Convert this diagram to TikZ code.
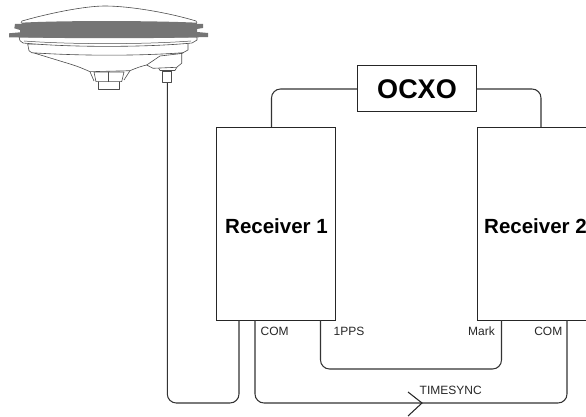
\documentclass[tikz,border=0pt]{standalone}
\usepackage{fontspec}
\setmainfont{Liberation Sans}
\tikzset{
  box/.style={draw=black!85,line width=1pt,fill=white,inner sep=0pt},
  wire/.style={draw=black!80,line width=1.05pt,rounded corners=9pt},
  tag/.style={inner sep=0pt,font=\fontsize{12}{14}\selectfont,text=black!85},
  big/.style={inner sep=0pt,font=\bfseries\fontsize{20.5}{23}\selectfont},
  ant/.style={draw=black!70,line width=0.6pt,fill=white,line join=round}
}
\begin{document}
\begin{tikzpicture}[x=1pt,y=-1pt]
\useasboundingbox (0,0) rectangle (586,417);
\clip (0,0) rectangle (586,417);
\coordinate (antout) at (167.3,82);
\coordinate (tsend) at (422,403);
\node[box,minimum width=119pt,minimum height=193pt,anchor=north west] (r1) at (216,127) {};
\node[box,minimum width=130pt,minimum height=193pt,anchor=north west] (r2) at (477,127) {};
\node[box,minimum width=119pt,minimum height=46pt,anchor=north west,font=\bfseries\fontsize{27}{30}\selectfont] (ocxo) at (357,65.5) {OCXO};
\coordinate (r1top) at (271.5,127);
\coordinate (r2top) at (541,127);
\coordinate (r1ant) at (239,320);
\coordinate (r1com) at (255,320);
\coordinate (r1pps) at (320.5,320);
\coordinate (r2mark) at (501.5,320);
\coordinate (r2com) at (567,320);
\draw[wire] (ocxo.west) -| (r1top);
\draw[wire] (ocxo.east) -| (r2top);
\draw[wire] (antout) -- (167.3,403) -- (239,403) -- (r1ant);
\draw[wire] (r1com) -- (255,403) -- (567,403) -- (r2com);
\draw[wire] (r1pps) -- (320.5,369) -- (501.5,369) -- (r2mark);
\draw[draw=black!85,line width=1.05pt] (408,392) -- (tsend) -- (408,416);
% labels
\node[big,anchor=center] (l1) at (276.5,226) {Receiver 1};
\node[big,anchor=west] (l2) at (484,226) {Receiver 2};
\node[tag,anchor=west] (t1) at (260.5,331) {COM};
\node[tag,anchor=west] (t2) at (333.5,331) {1PPS};
\node[tag,anchor=east] (t3) at (495,331) {Mark};
\node[tag,anchor=east] (t4) at (562.5,331) {COM};
\node[tag,anchor=west] (t5) at (419.5,390) {TIMESYNC};
% antenna: feet first, body over them
\draw[ant] (162.7,68) -- (162.7,82) -- (171.7,82) -- (171.7,68) -- cycle;
\draw[ant] (162.7,71.7) -- (171.7,71.7);
\draw[ant] (158,67) -- (160,70.5) -- (175,70.5) -- (177,67);
\draw[ant] (98,80) -- (98,89.3) -- (119,89.3) -- (119,80) -- cycle;
\draw[ant] (94,72) -- (96,81.7) -- (121.7,81.7) -- (124,72) -- cycle;
\draw[ant] (108,71.7) -- (108,81.7);
% lower body and cone
\draw[ant] (33,52.7) -- (70,64) .. controls (80,67) and (86,70) .. (90,71.7) -- (130,70.7) .. controls (136,68) and (142,66) .. (146.7,65) -- (183,53) -- cycle;
\draw[ant] (146.7,65) -- (153,68.3) -- (176.7,67.3) -- (181.7,63.3) -- (181.7,53.5) -- (160,56) -- cycle;
\draw[ant] (90,71.7) -- (94,81);
\draw[ant] (130,70.7) -- (124,80);
% flange
\draw[ant] (27.7,44) -- (29,50.7) -- (31.7,52.7) .. controls (80,56) and (140,56) .. (183,52.7) -- (188,50) -- (188,43) -- cycle;
\draw[ant] (19,37) -- (20,40.7) -- (23,43) .. controls (70,47.5) and (145,47.5) .. (192,43) -- (197,40) -- (197,37) -- cycle;
\draw[ant,line width=0.5pt] (24,41) .. controls (70,44.5) and (145,44.5) .. (191,41);
% dome
\draw[ant] (21,23) -- (22,21) .. controls (50,13) and (85,6) .. (105,6) .. controls (130,6) and (170,13) .. (196,21) -- (197,23);
% grey band with notched ends
\fill[black!54] (21.7,22.7) .. controls (60,20.5) and (150,20.5) .. (196.7,22.7) -- (197,24) -- (203,24) -- (203,28) -- (197,29) -- (197,32) -- (208,33) -- (208,37) -- (197,37.3) .. controls (150,38.5) and (70,38.5) .. (19,37.3) -- (9,37.3) -- (9,33.3) -- (20,32.3) -- (20,30) -- (14.3,28.3) -- (15,24) -- (21.7,24) -- cycle;
\end{tikzpicture}
\end{document}
